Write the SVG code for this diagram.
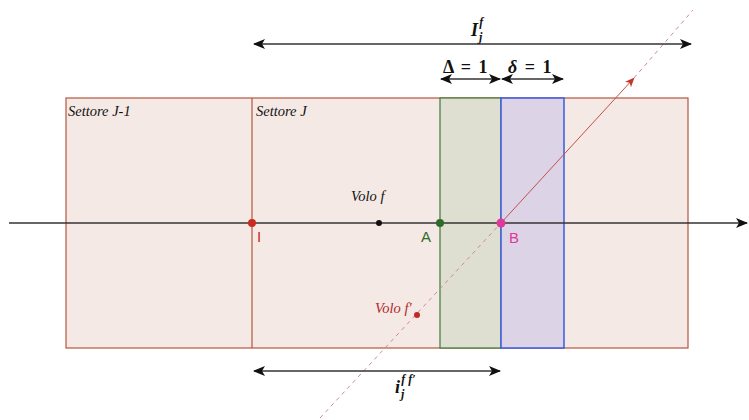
<svg xmlns="http://www.w3.org/2000/svg" width="749" height="420" viewBox="0 0 749 420">
<style>
.lbl{font-family:"Liberation Serif",serif;font-style:italic;font-size:14.5px;fill:#111}
.math{font-family:"Liberation Serif",serif;font-weight:bold;font-size:18px;fill:#111}
.pt{font-family:"Liberation Sans",sans-serif;font-size:15px}
.dim{stroke:#333;stroke-width:1.5;fill:none;marker-start:url(#ah);marker-end:url(#ah)}
</style>
<defs>
<marker id="ah" viewBox="0 0 12 10" refX="11" refY="5" markerWidth="12" markerHeight="10" markerUnits="userSpaceOnUse" orient="auto-start-reverse">
<path d="M0,0 L12,5 L0,10 L3,5 Z" fill="#111"/>
</marker>
<marker id="rh" viewBox="0 0 12 10" refX="11" refY="5" markerWidth="10" markerHeight="8" markerUnits="userSpaceOnUse" orient="auto">
<path d="M0,0 L12,5 L0,10 L3,5 Z" fill="#c0392b"/>
</marker>
</defs>
<g id="sectors">
<rect x="66" y="98" width="622" height="250" fill="#f5e9e5" stroke="#b5553c" stroke-width="1.2"/>
<line x1="252" y1="98" x2="252" y2="348" stroke="#b5553c" stroke-width="1.2"/>
<text class="lbl" x="68" y="116">Settore J-1</text>
<text class="lbl" x="256" y="116">Settore J</text>
</g>
<g id="band-delta">
<rect x="440" y="98" width="61" height="250" fill="#dedfd0" stroke="#3d7a3a" stroke-width="1.2"/>
</g>
<g id="band-small-delta">
<rect x="501" y="98" width="63" height="250" fill="#dcd4e6" stroke="#3b5be0" stroke-width="1.5"/>
</g>
<g id="connectors">
<line x1="9" y1="223" x2="747" y2="223" stroke="#333" stroke-width="1.5" marker-end="url(#ah)"/>
<line x1="320" y1="418" x2="501" y2="223" stroke="#d08a90" stroke-width="1" stroke-dasharray="4,4"/>
<line x1="501" y1="223" x2="634" y2="78" stroke="#c0504a" stroke-width="1" marker-end="url(#rh)"/>
<line x1="634" y1="78" x2="693" y2="10" stroke="#d08a90" stroke-width="1" stroke-dasharray="4,4"/>
<line class="dim" x1="254" y1="44" x2="691" y2="44"/>
<line class="dim" x1="441" y1="79" x2="500" y2="79"/>
<line class="dim" x1="502" y1="79" x2="563" y2="79"/>
<line class="dim" x1="254" y1="371" x2="500" y2="371"/>
</g>
<g id="labels">
<text class="math" x="471" y="36" font-style="italic">I<tspan font-size="12" dx="1" dy="5">j</tspan><tspan font-size="12" dx="-3" dy="-15">f</tspan></text>
<text class="math" x="443" y="73" word-spacing="3">Δ = 1</text>
<text class="math" x="508" y="73" word-spacing="3"><tspan font-style="italic">δ</tspan> = 1</text>
<text class="math" x="395" y="393" font-style="italic">i<tspan font-size="12" dx="1" dy="5">j</tspan><tspan font-size="12" dx="-3" dy="-15">f f′</tspan></text>
</g>
<g id="point-I">
<circle cx="252" cy="223" r="4" fill="#cc2a1f"/>
<text class="pt" x="257" y="242" fill="#cc2a1f">I</text>
</g>
<g id="point-volo-f">
<circle cx="379" cy="223" r="3" fill="#111"/>
<text class="lbl" x="351" y="201">Volo f</text>
</g>
<g id="point-A">
<circle cx="440" cy="223" r="4" fill="#2e6b2a"/>
<text class="pt" x="421" y="242" fill="#2e6b2a">A</text>
</g>
<g id="point-B">
<circle cx="501" cy="223" r="4.5" fill="#e0389a"/>
<text class="pt" x="509" y="243" fill="#e0389a">B</text>
</g>
<g id="point-volo-f1">
<circle cx="417" cy="315" r="3" fill="#c0282a"/>
<text class="lbl" x="375" y="313" style="fill:#b02a2a">Volo f′</text>
</g>
</svg>
